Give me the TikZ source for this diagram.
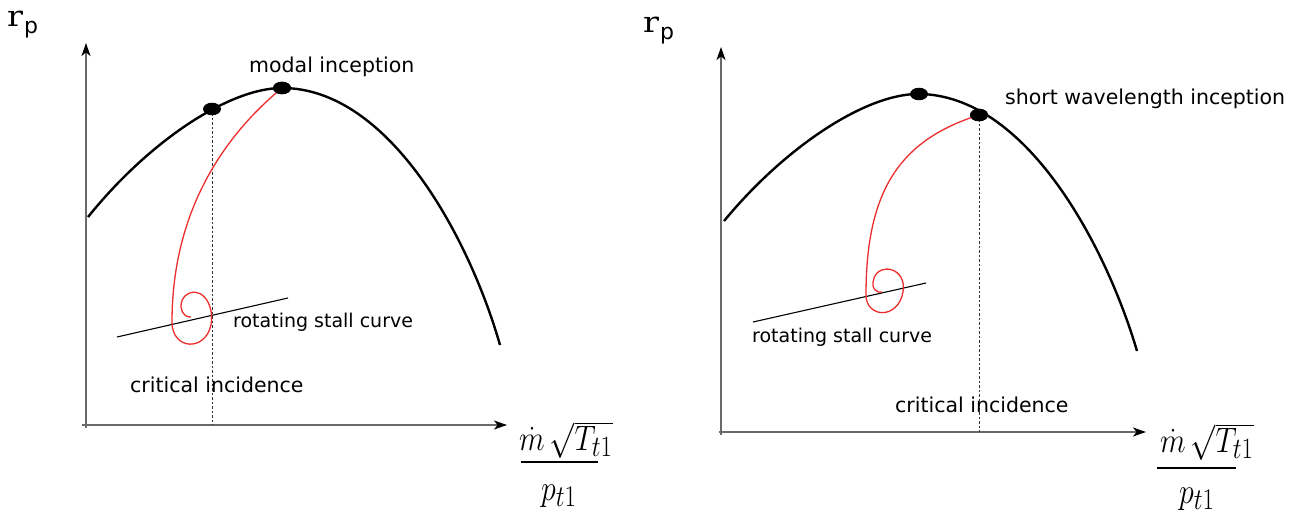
\documentclass[tikz,border=0pt]{standalone}
\usepackage{fontspec}
\usetikzlibrary{shapes.geometric,arrows.meta}
\newfontfamily\dv{DejaVu Sans}
\newfontfamily\dvs{DejaVu Serif}
\definecolor{redc}{RGB}{235,45,45}
\definecolor{axisc}{RGB}{105,105,105}
\tikzset{
  axisline/.style={draw=axisc, line width=1.4pt, -{Stealth[length=13pt,width=9pt,inset=3.5pt,color=black]}},
  perf/.style={draw=black, line width=2.4pt},
  redpath/.style={draw=redc, line width=1.3pt},
  stall/.style={draw=black, line width=1.1pt},
  drop/.style={draw=black!80, line width=0.9pt, dash pattern=on 2.5pt off 2pt},
  pdot/.style={ellipse, fill=black, minimum width=18pt, minimum height=12.5pt, inner sep=0pt},
  lab/.style={font=\dv\fontsize{20.5}{24}\selectfont, anchor=base west, inner sep=0pt},
  slab/.style={font=\dv\fontsize{19}{22}\selectfont, anchor=base west, inner sep=0pt},
  mlab/.style={anchor=base west, inner sep=0pt},
  bar/.style={draw=black, line width=2.6pt}
}
\newcommand{\rplabel}{{\dvs\fontsize{29}{29}\selectfont\scalebox{1.15}[1]{r}}\hspace{1pt}\raisebox{-7pt}{\dv\fontsize{22}{22}\selectfont p}}
\newcommand{\numtxt}{\scalebox{1.2}[1.42]{\Huge$\dot m\,\sqrt{T_{t1}}$}}
\newcommand{\dentxt}{\scalebox{1.2}[1.45]{\Huge$p_{t1}$}}
\begin{document}
\begin{tikzpicture}[x=1pt,y=-1pt]
\useasboundingbox (0,0) rectangle (1309,516);

% ================= LEFT PANEL =================
\coordinate (LxS) at (82,425);
\coordinate (LxE) at (507,425);
\coordinate (LyS) at (86,428);
\coordinate (LyE) at (86,43);
\draw[axisline] (LxS) -- (LxE);
\draw[axisline] (LyS) -- (LyE);

\draw[perf] (88,217) .. controls (150,140) and (230,88) .. (282,88)
            .. controls (390,88) and (470,240) .. (500,345);

\coordinate (L1b) at (212,425);
\draw[drop] (212,109) -- (L1b);

\draw[stall] (117,337) -- (288,298);

\node[pdot] (L1) at (212,109) {};
\node[pdot] (L2) at (282,88) {};

\draw[redpath] (L2.center) .. controls (225,135) and (172,210) .. (172,322)
  .. controls (172,350) and (205,352) .. (211,325)
  .. controls (215,302) and (199,284) .. (185,296)
  .. controls (177,304) and (182,318) .. (191,317);
\node[pdot] at (L2) {};

\node[lab] (modal) at (249,73) {modal inception};
\node[slab] (rscL) at (233,327) {rotating stall curve};
\node[lab] (ciL) at (130,392) {critical incidence};

\node[mlab] (rpL) at (7,27) {\rplabel};
\node[mlab] (numL) at (519,450) {\numtxt};
\coordinate (barLa) at (521,462);
\coordinate (barLb) at (598,462);
\draw[bar] (barLa) -- (barLb);
\node[mlab] (denL) at (541,500) {\dentxt};

% ================= RIGHT PANEL =================
\coordinate (RxS) at (719,432);
\coordinate (RxE) at (1146,432);
\coordinate (RyS) at (721,435);
\coordinate (RyE) at (721,47);
\draw[axisline] (RxS) -- (RxE);
\draw[axisline] (RyS) -- (RyE);

\draw[perf] (724,221) .. controls (786,146) and (866,94) .. (918,94)
            .. controls (1026,94) and (1106,246) .. (1137,351);

\coordinate (R2b) at (979,432);
\draw[drop] (979,115) -- (R2b);

\draw[stall] (753,322) -- (926,283);

\node[pdot] (R1) at (919,94) {};
\node[pdot] (R2) at (979,115) {};

\draw[redpath] (R2.center) .. controls (900,140) and (866,190) .. (866,295)
  .. controls (866,318) and (898,320) .. (903,292)
  .. controls (907,268) and (880,262) .. (874,278)
  .. controls (870,290) and (878,293) .. (882,292);
\node[pdot] at (R2) {};

\node[lab] (swi) at (1005,105) {short wavelength inception};
\node[slab] (rscR) at (752,342) {rotating stall curve};
\node[lab] (ciR) at (895,412) {critical incidence};

\node[mlab] (rpR) at (643,33) {\rplabel};
\node[mlab] (numR) at (1160,452) {\numtxt};
\coordinate (barRa) at (1157,468);
\coordinate (barRb) at (1236,468);
\draw[bar] (barRa) -- (barRb);
\node[mlab] (denR) at (1179,503) {\dentxt};
\end{tikzpicture}
\end{document}
